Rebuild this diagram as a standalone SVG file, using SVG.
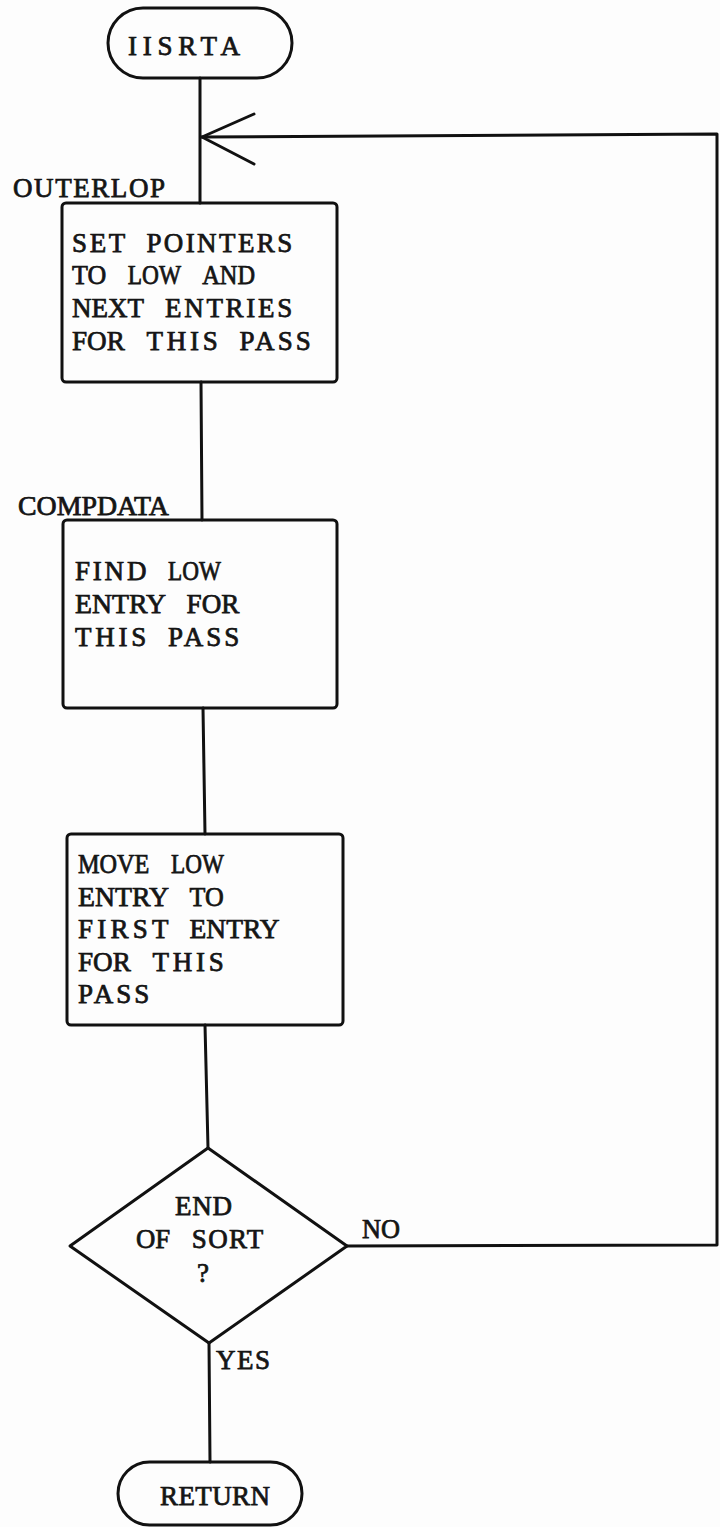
<svg xmlns="http://www.w3.org/2000/svg" width="720" height="1527" viewBox="0 0 720 1527">
  <style>
    .shape { fill: none; stroke: #111; stroke-width: 3; stroke-linejoin: round; }
    .wire { fill: none; stroke: #111; stroke-width: 3; stroke-linecap: round; stroke-linejoin: round; }
    .txt { font-family: "Liberation Serif", "Times New Roman", serif; font-size: 27px; fill: #151515; stroke: #151515; stroke-width: 0.75; }
  </style>
  <rect x="0" y="0" width="720" height="1527" fill="#fdfdfd"/>

  <!-- connectors -->
  <g id="connectors">
    <line class="wire" x1="200" y1="78" x2="200" y2="203"/>
    <line class="wire" x1="201" y1="382" x2="202" y2="520"/>
    <line class="wire" x1="203" y1="708" x2="205" y2="834"/>
    <line class="wire" x1="205" y1="1025" x2="208" y2="1148"/>
    <line class="wire" x1="209" y1="1343" x2="210" y2="1462"/>
    <!-- NO branch loops back to OUTERLOP -->
    <polyline class="wire" points="347,1246 717,1245 717,134 201,137"/>
    <polyline class="wire" points="254,114 202,137 254,164"/>
    <text class="txt" x="362" y="1238" textLength="38" lengthAdjust="spacingAndGlyphs">NO</text>
    <text class="txt" x="216" y="1369" textLength="54" lengthAdjust="spacing">YES</text>
  </g>

  <g id="start">
    <rect class="shape" x="108" y="8" width="184" height="70" rx="35"/>
    <text class="txt" x="128" y="55" textLength="112" lengthAdjust="spacing">IISRTA</text>
  </g>

  <!-- box text is set on a fixed typewriter column grid (18.6px pitch) -->
  <g id="outerlop">
    <text class="txt" x="13" y="197" textLength="152" lengthAdjust="spacing">OUTERLOP</text>
    <rect class="shape" x="62" y="203" width="275" height="179" rx="4"/>
    <text class="txt" y="252"><tspan x="72" textLength="52.8" lengthAdjust="spacing">SET</tspan> <tspan x="146.4" textLength="145.8" lengthAdjust="spacing">POINTERS</tspan></text>
    <text class="txt" y="284"><tspan x="72" textLength="34.2" lengthAdjust="spacingAndGlyphs">TO</tspan> <tspan x="127.8" textLength="52.8" lengthAdjust="spacingAndGlyphs">LOW</tspan> <tspan x="202.2" textLength="52.8" lengthAdjust="spacingAndGlyphs">AND</tspan></text>
    <text class="txt" y="317"><tspan x="72" textLength="71.4" lengthAdjust="spacing">NEXT</tspan> <tspan x="165" textLength="127.2" lengthAdjust="spacing">ENTRIES</tspan></text>
    <text class="txt" y="350"><tspan x="72" textLength="52.8" lengthAdjust="spacingAndGlyphs">FOR</tspan> <tspan x="146.4" textLength="71.4" lengthAdjust="spacing">THIS</tspan> <tspan x="239.4" textLength="71.4" lengthAdjust="spacing">PASS</tspan></text>
  </g>

  <g id="compdata">
    <text class="txt" x="18" y="515" textLength="151" lengthAdjust="spacingAndGlyphs">COMPDATA</text>
    <rect class="shape" x="63" y="520" width="274" height="188" rx="4"/>
    <text class="txt" y="580"><tspan x="75" textLength="71.4" lengthAdjust="spacing">FIND</tspan> <tspan x="168" textLength="52.8" lengthAdjust="spacingAndGlyphs">LOW</tspan></text>
    <text class="txt" y="613"><tspan x="75" textLength="90" lengthAdjust="spacingAndGlyphs">ENTRY</tspan> <tspan x="186.6" textLength="52.8" lengthAdjust="spacingAndGlyphs">FOR</tspan></text>
    <text class="txt" y="646"><tspan x="75" textLength="71.4" lengthAdjust="spacing">THIS</tspan> <tspan x="168" textLength="71.4" lengthAdjust="spacing">PASS</tspan></text>
  </g>

  <g id="move">
    <rect class="shape" x="67" y="834" width="276" height="191" rx="4"/>
    <text class="txt" y="873"><tspan x="78" textLength="71.4" lengthAdjust="spacingAndGlyphs">MOVE</tspan> <tspan x="171" textLength="52.8" lengthAdjust="spacingAndGlyphs">LOW</tspan></text>
    <text class="txt" y="906"><tspan x="78" textLength="90" lengthAdjust="spacingAndGlyphs">ENTRY</tspan> <tspan x="189.6" textLength="34.2" lengthAdjust="spacingAndGlyphs">TO</tspan></text>
    <text class="txt" y="938"><tspan x="78" textLength="90" lengthAdjust="spacing">FIRST</tspan> <tspan x="189.6" textLength="90" lengthAdjust="spacingAndGlyphs">ENTRY</tspan></text>
    <text class="txt" y="971"><tspan x="78" textLength="52.8" lengthAdjust="spacingAndGlyphs">FOR</tspan> <tspan x="152.4" textLength="71.4" lengthAdjust="spacing">THIS</tspan></text>
    <text class="txt" x="78" y="1003" textLength="71.4" lengthAdjust="spacing">PASS</text>
  </g>

  <g id="endcheck">
    <polygon class="shape" points="208,1148 347,1246 209,1343 70,1246"/>
    <text class="txt" x="175" y="1215" textLength="57" lengthAdjust="spacing">END</text>
    <text class="txt" y="1248"><tspan x="136" textLength="34.2" lengthAdjust="spacingAndGlyphs">OF</tspan> <tspan x="191.8" textLength="71.4" lengthAdjust="spacing">SORT</tspan></text>
    <text class="txt" x="197" y="1282">?</text>
  </g>

  <g id="return">
    <rect class="shape" x="118" y="1462" width="184" height="63" rx="31.5"/>
    <text class="txt" x="160" y="1505" textLength="110" lengthAdjust="spacing">RETURN</text>
  </g>
</svg>
